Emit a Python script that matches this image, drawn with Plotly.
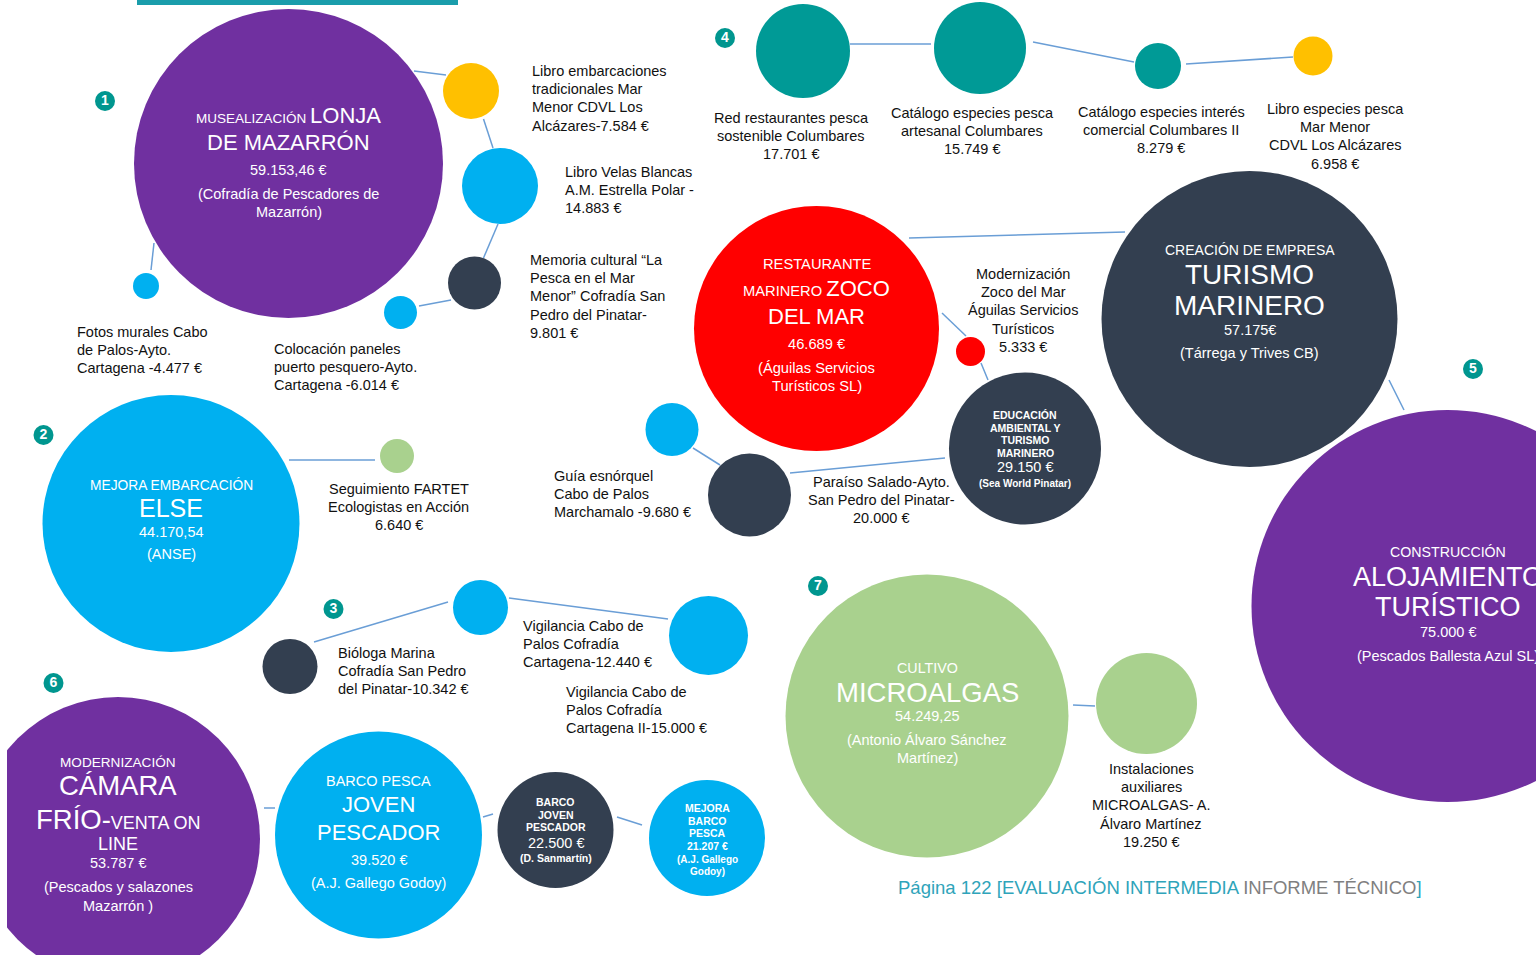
import re
import plotly.graph_objects as go

W, H = 1536, 955
FONT = "Liberation Sans, Arial, Helvetica, sans-serif"

PURPLE = "#7030A0"
CYAN   = "#00B0F0"
NAVY   = "#333F50"
YELLOW = "#FFC000"
GREEN  = "#A9D18E"
RED    = "#FF0000"
TEAL   = "#009A96"
LINK   = "#6A9ED6"
BADGE  = "#00968F"
INK    = "#111111"

# ── Data: projects written inside their bubble ────────────────────────────────
# {...} marks the words printed in the large face
big_title = [
    "MUSEALIZACIÓN {LONJA}\n{DE MAZARRÓN}",
    "MEJORA EMBARCACIÓN\n{ELSE}",
    "RESTAURANTE\nMARINERO {ZOCO}\n{DEL MAR}",
    "CREACIÓN DE EMPRESA\n{TURISMO}\n{MARINERO}",
    "EDUCACIÓN\nAMBIENTAL Y\nTURISMO\nMARINERO",
    "CONSTRUCCIÓN\n{ALOJAMIENTO}\n{TURÍSTICO}",
    "MODERNIZACIÓN\n{CÁMARA}\n{FRÍO-}VENTA ON\nLINE",
    "BARCO PESCA\n{JOVEN}\n{PESCADOR}",
    "BARCO\nJOVEN\nPESCADOR",
    "MEJORA\nBARCO\nPESCA",
    "CULTIVO\n{MICROALGAS}",
]
big_amount = ["59.153,46 €", "44.170,54", "46.689 €", "57.175€", "29.150 €",
              "75.000 €", "53.787 €", "39.520 €", "22.500 €", "21.207 €",
              "54.249,25"]
big_owner = [
    "(Cofradía de Pescadores de\nMazarrón)",
    "(ANSE)",
    "(Águilas Servicios\nTurísticos SL)",
    "(Tárrega y Trives CB)",
    "(Sea World Pinatar)",
    "(Pescados Ballesta Azul SL)",
    "(Pescados y salazones\nMazarrón )",
    "(A.J. Gallego Godoy)",
    "(D. Sanmartín)",
    "(A.J. Gallego\nGodoy)",
    "(Antonio Álvaro Sánchez\nMartínez)",
]

# ── Data: projects labelled beside their bubble ───────────────────────────────
small_name = [
    "Libro embarcaciones\ntradicionales Mar\nMenor CDVL Los\nAlcázares-",
    "Libro Velas Blancas\nA.M. Estrella Polar -\n",
    "Memoria cultural “La\nPesca en el Mar\nMenor” Cofradía San\nPedro del Pinatar-\n",
    "Colocación paneles\npuerto pesquero-Ayto.\nCartagena -",
    "Fotos murales Cabo\nde Palos-Ayto.\nCartagena -",
    "Red restaurantes pesca\nsostenible Columbares\n",
    "Catálogo especies pesca\nartesanal Columbares\n",
    "Catálogo especies interés\ncomercial Columbares II\n",
    "Libro especies pesca\nMar Menor\nCDVL Los Alcázares\n",
    "Modernización\nZoco del Mar\nÁguilas Servicios\nTurísticos\n",
    "Guía esnórquel\nCabo de Palos\nMarchamalo -",
    "Paraíso Salado-Ayto.\nSan Pedro del Pinatar-\n",
    "Seguimiento FARTET\nEcologistas en Acción\n",
    "Bióloga Marina\nCofradía San Pedro\ndel Pinatar-",
    "Vigilancia Cabo de\nPalos Cofradía\nCartagena-",
    "Vigilancia Cabo de\nPalos Cofradía\nCartagena II-",
    "Instalaciones\nauxiliares\nMICROALGAS- A.\nÁlvaro Martínez\n",
]
small_amount = ["7.584 €", "14.883 €", "9.801 €", "6.014 €", "4.477 €",
                "17.701 €", "15.749 €", "8.279 €", "6.958 €", "5.333 €",
                "9.680 €", "20.000 €", "6.640 €", "10.342 €", "12.440 €",
                "15.000 €", "19.250 €"]

badge_num = ["1", "2", "3", "4", "5", "6", "7"]
footer_teal = "Página 122 [EVALUACIÓN INTERMEDIA"
footer_grey = "INFORME TÉCNICO"

# ── Layout (page pixels) ──────────────────────────────────────────────────────
big_cx    = [288.5, 171, 816.5, 1249.5, 1025, 1447.5, 118, 378.5, 555.5, 707, 927]
big_cy    = [163.5, 523.5, 328.5, 319, 448.5, 606, 839, 835, 830, 838, 716]
big_d     = [309, 257, 245, 296, 152, 392, 284, 207, 116, 116, 283]
big_color = [PURPLE, CYAN, RED, NAVY, NAVY, PURPLE, PURPLE, CYAN, NAVY, CYAN, GREEN]
big_large = [22, 25, 22, 28, 0, 27, 27.5, 22, 0, 0, 27.5]
big_line_y = [
    [115, 142, 170, 194, 212],
    [485, 508, 532, 554],
    [264, 288, 316, 344, 368, 386],
    [250, 274, 305, 330, 353],
    [415, 428, 440, 453, 467, 483],
    [552, 577, 607, 632, 656],
    [762, 785, 819, 844, 863, 887, 906],
    [781, 804, 832, 860, 883],
    [802, 815, 827, 843, 858],
    [808, 821, 833, 846, 859, 871],
    [668, 692, 716, 740, 758],
]
big_line_size = [
    [13.5, 22, 14.5, 14.5, 14.5],
    [13.8, 25, 14.5, 14.5],
    [14.7, 14.7, 22, 14.7, 14.7, 14.7],
    [14, 28, 28, 14.5, 14.5],
    [10.5, 10.5, 10.5, 10.5, 14.5, 10],
    [14.2, 27, 27, 14.5, 14.5],
    [13.6, 27.5, 18, 18, 14.5, 14.5, 14.5],
    [14.5, 22, 22, 14.5, 14.5],
    [10.5, 10.5, 10.5, 14.5, 10.5],
    [10.5, 10.5, 10.5, 10.5, 10, 10],
    [14.3, 27.5, 14.5, 14.5, 14.5],
]
big_bold = [False, False, False, False, True, False, False, False, True, True, False]

small_cx    = [471, 500, 474.5, 400.5, 146, 803, 980, 1158, 1313, 970.5,
               672, 749.5, 397, 290, 480.5, 708.5, 1146.5]
small_cy    = [91, 186, 283, 312.5, 286, 51, 48, 66, 56, 351.5,
               429.5, 495, 456, 666.5, 607.5, 635.5, 703.5]
small_d     = [56, 76, 53, 33, 26, 94, 92, 46, 39, 29,
               53, 83, 34, 55, 55, 79, 101]
small_color = [YELLOW, CYAN, NAVY, CYAN, CYAN, TEAL, TEAL, TEAL, YELLOW, RED,
               CYAN, NAVY, GREEN, NAVY, CYAN, CYAN, GREEN]
label_x     = [530, 563, 528, 272, 75, 791, 972, 1161, 1335, 1023,
               551.5, 881, 398.5, 336, 520.5, 563.7, 1151]
label_y     = [71, 172, 260, 349, 332, 118, 113, 112, 109, 274,
               476, 482, 489, 653, 626, 692, 769]
label_align = ["left"] * 5 + ["center"] * 5 + ["left", "center", "center",
                                               "left", "left", "left", "center"]
LINE_STEP = 18.2

links = [
    (414, 71, 446, 75), (483.5, 119, 493, 148), (498, 224, 483.5, 258),
    (451, 300, 419, 306), (154, 243, 151, 270),
    (850, 44, 931, 44), (1033, 42, 1134, 62), (1186, 64, 1293, 57),
    (909, 238, 1125, 232), (942, 313, 966, 336), (981, 363, 988, 380),
    (790, 473, 945, 458), (693, 448, 720, 465), (1389, 380, 1404, 410),
    (289, 460, 375, 460), (314, 642, 448, 602), (509, 598, 668, 619),
    (264, 808, 275, 808), (483, 817, 493, 814), (617, 817, 642, 825),
    (1073, 705, 1095, 706),
]

badge_x = [105, 43.5, 333.5, 725, 1473, 53.5, 818]
badge_y = [101, 435, 609, 38, 369, 683, 586]

fig = go.Figure()

# ── Connectors ────────────────────────────────────────────────────────────────
lx, ly = [], []
for x0, y0, x1, y1 in links:
    lx += [x0, x1, None]
    ly += [y0, y1, None]
fig.add_trace(go.Scatter(x=lx, y=ly, mode="lines",
                         line=dict(color=LINK, width=1.5), hoverinfo="skip"))

# ── Bubbles ───────────────────────────────────────────────────────────────────
fig.add_trace(go.Scatter(
    x=big_cx + small_cx, y=big_cy + small_cy, mode="markers",
    marker=dict(size=big_d + small_d, color=big_color + small_color,
                opacity=1, line=dict(width=0)),
    hoverinfo="skip",
))

fig.add_trace(go.Scatter(
    x=badge_x, y=badge_y, mode="markers+text", text=badge_num,
    textposition="middle center",
    textfont=dict(family=FONT, size=14, color="white", weight="bold"),
    marker=dict(size=20, color=BADGE, line=dict(width=0)),
    hoverinfo="skip",
))


def add_text(x, y, text, size, color, anchor="center", bold=False):
    fig.add_annotation(
        x=x, y=y, xref="x", yref="y", text=text, showarrow=False,
        xanchor=anchor, yanchor="middle", align=anchor,
        font=dict(family=FONT, size=size, color=color,
                  weight="bold" if bold else "normal"),
    )


# text inside the big bubbles
for i in range(len(big_title)):
    lines = big_title[i].split("\n") + [big_amount[i]] + big_owner[i].split("\n")
    for j, line in enumerate(lines):
        txt = re.sub(r"\{([^}]*)\}",
                     lambda m: f"<span style='font-size:{big_large[i]}px'>{m.group(1)}</span>",
                     line)
        bold = big_bold[i] and not (line == big_amount[i] and big_line_size[i][j] > 12)
        add_text(big_cx[i], big_line_y[i][j], txt, big_line_size[i][j], "white", bold=bold)

# labels beside the small bubbles
for i in range(len(small_name)):
    lines = (small_name[i] + small_amount[i]).split("\n")
    for j, line in enumerate(lines):
        add_text(label_x[i], label_y[i] + j * LINE_STEP, line, 14.5, INK,
                 anchor=label_align[i])

# footer
add_text(1160, 887,
         f"<span style='color:#2FA4BA'>{footer_teal}</span> "
         f"<span style='color:#808080'>{footer_grey}</span>"
         f"<span style='color:#2FA4BA'>]</span>",
         18.5, "#2FA4BA")

# decoration: teal rule at the top and the page edge on the left
fig.add_shape(type="rect", xref="x", yref="y", x0=137, x1=458, y0=0, y1=5,
              fillcolor="#1A9DAB", line=dict(width=0), layer="above")
fig.add_shape(type="rect", xref="x", yref="y", x0=0, x1=7, y0=680, y1=955,
              fillcolor="white", line=dict(width=0), layer="above")

fig.update_layout(
    width=W, height=H, margin=dict(l=0, r=0, t=0, b=0),
    paper_bgcolor="white", plot_bgcolor="white", showlegend=False,
    hovermode=False,
    xaxis=dict(range=[0, W], visible=False, fixedrange=True),
    yaxis=dict(range=[H, 0], visible=False, fixedrange=True),
)

fig.write_html("out.html", config={"displayModeBar": False},
               post_script="document.body.style.margin='0';")
